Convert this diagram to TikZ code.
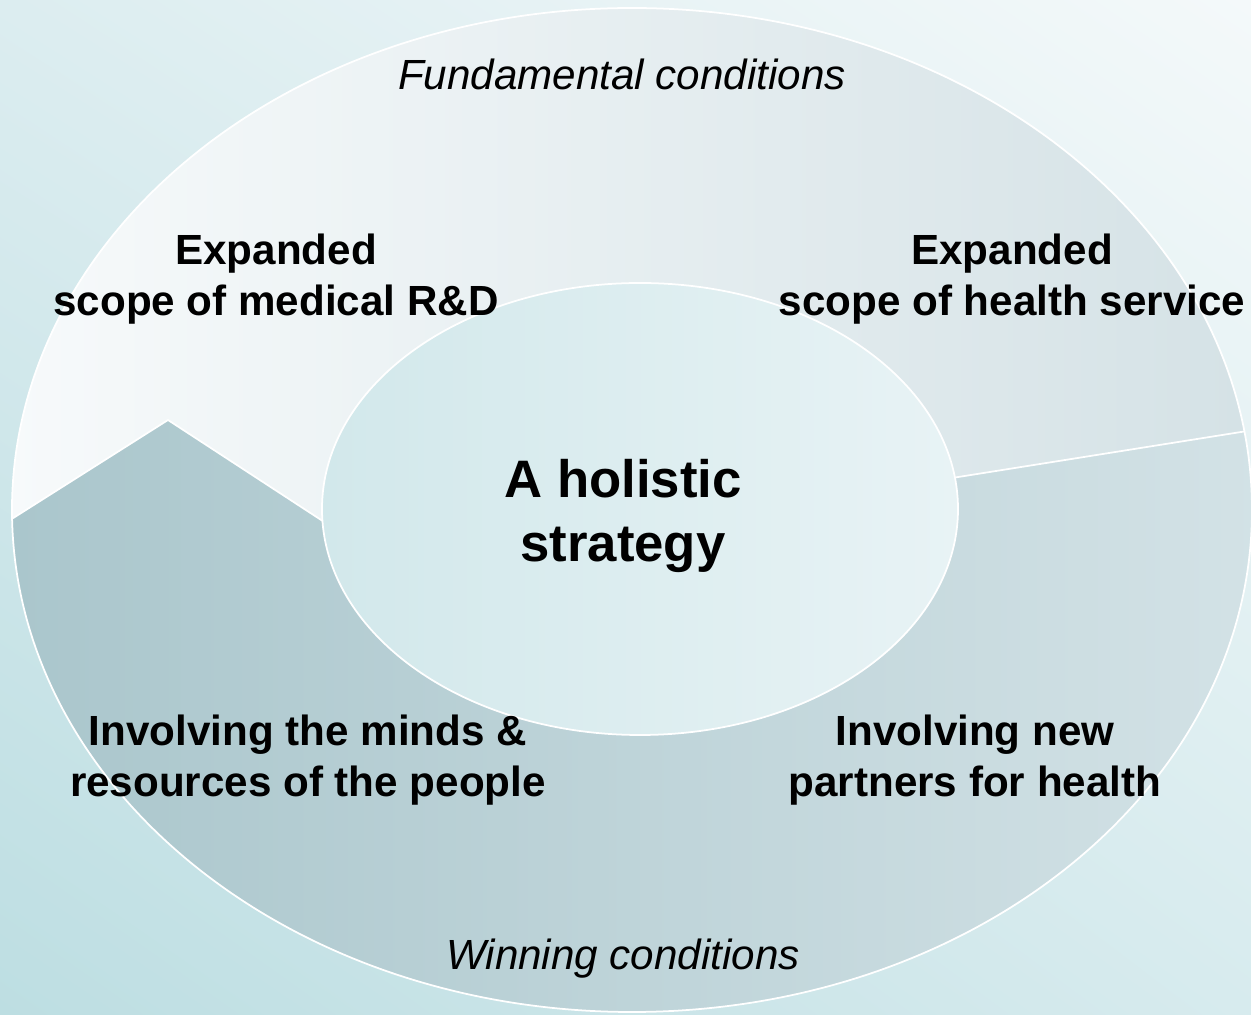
\documentclass[tikz,border=0pt]{standalone}
\usepackage{fontspec}
\setmainfont{Liberation Sans}
\usetikzlibrary{calc,shadings}

\definecolor{bgdeep}{HTML}{BDDEE2}
\definecolor{bgpale}{HTML}{F4F9FA}
\definecolor{bgmid}{HTML}{D7EBEE}
\definecolor{bgtop}{HTML}{DCEDF0}
\definecolor{upperpale}{HTML}{F7FAFB}
\definecolor{upperdim}{HTML}{D5E2E6}
\definecolor{lowerdeep}{HTML}{AAC6CC}
\definecolor{lowerpale}{HTML}{D3E2E6}
\definecolor{corelight}{HTML}{E8F3F5}
\definecolor{coredeep}{HTML}{D2E8EB}

\begin{document}
\begin{tikzpicture}[
      divider/.style={draw=white, line width=1pt},
      ringtext/.style={font=\bfseries\fontsize{24}{29}\selectfont, align=center},
      condition/.style={font=\itshape\fontsize{24}{29}\selectfont, anchor=base},
      centretext/.style={font=\bfseries\fontsize{30}{36}\selectfont, align=center}]

   \useasboundingbox (-12.64,-10.1) rectangle (12.38,10.2);
   \shade[upper left=bgtop, upper right=bgpale, lower left=bgdeep, lower right=bgmid]
      (-12.64,-10.1) rectangle (12.38,10.2);

   \coordinate (O) at (0,0);
   \coordinate (I) at (0.16,0.02);
   \coordinate (OL) at (181:12.4cm and 10.04cm);
   \coordinate (OR) at (9:12.4cm and 10.04cm);
   \coordinate (IL) at ($(I)+(183:6.36cm and 4.52cm)$);
   \coordinate (IR) at ($(I)+(8:6.36cm and 4.52cm)$);
   \coordinate (tip) at (-9.28,1.8);

   \shade[left color=upperpale, right color=upperdim]
      (OL) arc[start angle=181, end angle=9, x radius=12.4cm, y radius=10.04cm]
      -- (IR) arc[start angle=8, end angle=183, x radius=6.36cm, y radius=4.52cm]
      -- (tip) -- cycle;
   \shade[left color=lowerdeep, right color=lowerpale]
      (OL) arc[start angle=181, end angle=369, x radius=12.4cm, y radius=10.04cm]
      -- (IR) arc[start angle=8, end angle=-177, x radius=6.36cm, y radius=4.52cm]
      -- (tip) -- cycle;
   \shade[left color=coredeep, right color=corelight]
      (I) ellipse[x radius=6.36cm, y radius=4.52cm];

   \draw[divider] (O) ellipse[x radius=12.4cm, y radius=10.04cm];
   \draw[divider] (I) ellipse[x radius=6.36cm, y radius=4.52cm];
   \draw[divider] (IR) -- (OR);
   \draw[divider] (OL) -- (tip) -- (IL);

   \node[condition] (fundamental) at (-0.2,8.4) {Fundamental conditions};
   \node[condition] (winning) at (-0.18,-9.2) {Winning conditions};
   \node[ringtext] (research) at (-7.12,4.62) {Expanded\\scope of medical R\&D};
   \node[ringtext] (service) at (7.6,4.62) {Expanded\\scope of health service};
   \node[centretext] (strategy) at (-0.18,-0.12) {A holistic\\strategy};
   \node[ringtext] (people) at (-6.48,-5.0) {Involving the minds \&\\resources of the people};
   \node[ringtext] (partners) at (6.86,-5.0) {Involving new\\partners for health};

\end{tikzpicture}
\end{document}
